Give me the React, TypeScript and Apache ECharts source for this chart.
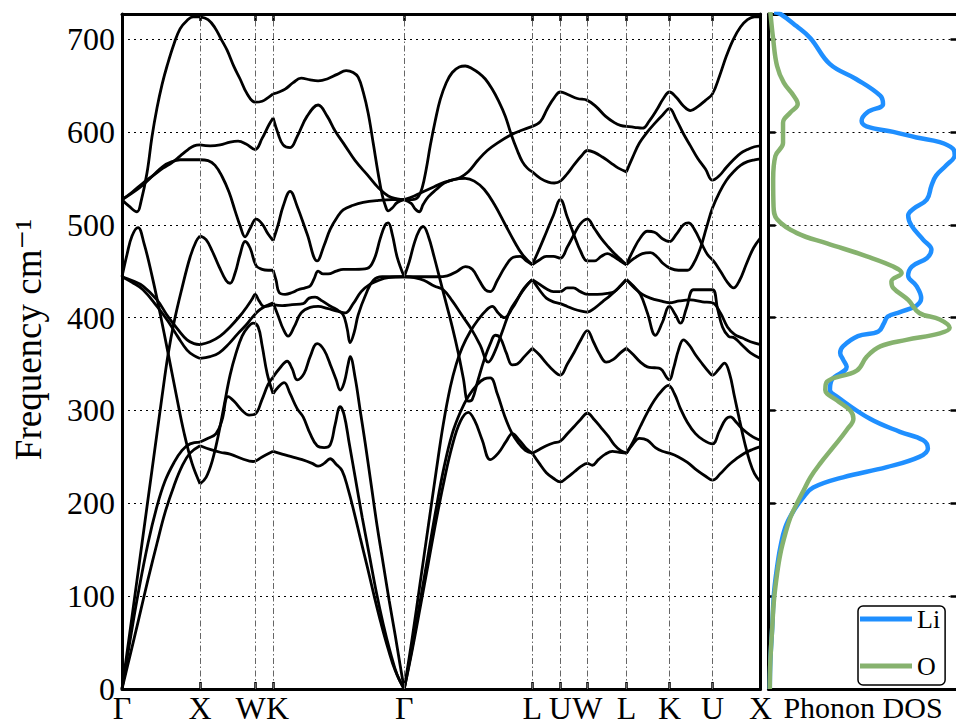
import { useEffect, useRef } from 'react';
import * as echarts from 'echarts';

const FONT = "'Liberation Serif', 'DejaVu Serif', serif";

// high-symmetry points along the path (path coordinate) and their labels
const symLabels = ['Γ', 'X', 'W', 'K', 'Γ', 'L', 'U', 'W', 'L', 'K', 'U', 'X'];
const symPos = [0, 78, 133, 151, 282, 410, 438, 465, 504, 547, 590, 638];
const yTicks = [0, 100, 200, 300, 400, 500, 600, 700];
const yMax = 727;

// ---- band curves, one small array per path segment ([path, frequency cm^-1]) ----
const bandsGX = [
  [[0,0],[8,36],[16,72],[26,118],[35,157],[43,190],[52,219],[60,240],[68,254],[78,262]],
  [[0,0],[8,52],[16,102],[26,157],[35,197],[43,224],[52,244],[60,257],[68,264],[78,266]],
  [[0,0],[10,78],[20,157],[30,236],[40,315],[46,360],[52,395],[60,432],[68,465],[74,482],[78,488]],
  [[0,444],[5,468],[10,488],[16,497],[22,480],[30,445],[38,405],[46,362],[54,318],[62,276],[70,243],[78,221]],
  [[0,444],[10,440],[21,434],[35,419],[46,401],[56,387],[65,376],[72,372],[78,371]],
  [[0,444],[10,438],[21,430],[35,412],[46,396],[56,379],[65,365],[72,359],[78,356]],
  [[0,527],[10,534],[21,543],[31,553],[41,563],[50,568],[58,570],[68,570],[78,570]],
  [[0,527],[10,535],[21,545],[31,553],[41,561],[50,567],[58,574],[66,581],[72,585],[78,586]],
  [[0,527],[7,520],[15,514],[19,525],[25,556],[30,595],[35,626],[40,651],[45,671],[52,695],[58,711],[65,720],[71,724],[78,724]],
];

const bandsXWK = [
  [[78,724],[86,721],[93,712],[99,700],[105,688],[112,670],[118,657],[125,641],[133,632],[140,633],[146,637],[151,641]],
  [[78,586],[88,585],[98,586],[108,589],[116,590],[124,587],[133,581],[140,593],[147,608],[151,615]],
  [[78,570],[86,569],[93,564],[100,552],[107,535],[113,515],[118,499],[123,487],[128,496],[134,506],[140,501],[146,490],[151,483]],
  [[78,488],[84,484],[90,472],[97,455],[104,440],[108,437],[113,448],[118,468],[123,482],[128,475],[134,456],[140,452],[146,451],[151,451]],
  [[78,371],[88,374],[98,380],[108,390],[118,402],[125,412],[130,420],[133,425],[137,418],[142,412],[151,414]],
  [[78,356],[88,358],[97,362],[107,372],[116,383],[124,392],[130,400],[136,407],[143,412],[151,416]],
  [[78,221],[84,228],[90,245],[96,272],[102,305],[108,338],[114,362],[120,380],[126,390],[131,394],[136,390],[140,370],[145,340],[151,318]],
  [[78,266],[86,270],[94,275],[100,290],[106,315],[112,310],[120,300],[127,295],[133,296],[140,312],[146,328],[151,336]],
  [[78,262],[88,258],[98,255],[108,253],[120,248],[131,245],[140,250],[151,256]],
];

const bandsKG = [
  [[151,641],[157,643],[163,646],[171,653],[179,658],[188,656],[196,655],[205,657],[215,662],[224,666],[231,664],[236,659],[241,643],[246,620],[251,588],[256,555],[260,532],[263,521],[266,515],[270,518],[275,524],[282,527]],
  [[151,615],[156,598],[161,586],[168,583],[175,595],[185,617],[196,629],[205,617],[213,601],[223,585],[233,569],[245,554],[256,540],[266,531],[275,528],[282,527]],
  [[151,483],[156,500],[161,520],[168,536],[175,520],[185,490],[195,461],[202,478],[208,495],[215,508],[221,516],[231,521],[241,524],[255,526],[270,527],[282,527]],
  [[151,451],[154,440],[157,427],[163,425],[170,427],[176,430],[183,432],[188,434],[192,442],[196,450],[201,447],[206,447],[214,450],[221,452],[233,452],[245,453],[252,463],[258,485],[263,500],[266,502],[270,490],[275,465],[282,444]],
  [[151,414],[160,413],[170,414],[181,415],[187,421],[193,422],[200,418],[207,413],[214,409],[221,403],[225,388],[228,373],[232,384],[236,403],[244,426],[251,440],[260,444],[282,444]],
  [[151,416],[156,402],[161,388],[166,380],[172,390],[179,405],[188,411],[196,412],[205,410],[215,407],[223,405],[231,415],[239,428],[248,436],[256,440],[266,443],[282,444]],
  [[151,336],[158,346],[165,353],[170,345],[175,333],[182,340],[188,358],[195,372],[202,365],[209,347],[214,333],[218,322],[222,330],[226,350],[228,358],[233,335],[238,300],[243,265],[249,220],[255,175],[261,135],[267,95],[273,58],[278,25],[282,0]],
  [[151,318],[156,325],[162,330],[168,318],[175,302],[181,293],[188,275],[195,262],[202,260],[208,263],[213,285],[218,304],[222,295],[227,265],[233,228],[240,185],[247,145],[254,105],[261,70],[268,40],[275,15],[282,0]],
  [[151,256],[160,253],[170,250],[180,247],[190,243],[196,240],[202,243],[208,248],[214,242],[220,235],[226,215],[232,190],[238,163],[245,132],[252,100],[259,70],[266,43],[273,20],[282,0]],
];

const bandsGL = [
  [[282,527],[290,527],[296,530],[300,540],[304,560],[308,585],[313,612],[318,635],[324,653],[330,664],[337,670],[343,671],[350,668],[357,663],[363,657],[370,646],[376,634],[383,617],[389,597],[395,580],[400,568],[405,561],[410,557]],
  [[282,527],[292,531],[302,536],[312,541],[320,545],[330,548],[338,551],[346,557],[356,570],[365,580],[375,588],[389,597],[400,602],[410,606]],
  [[282,527],[289,523],[293,517],[297,514],[301,522],[306,530],[314,538],[322,545],[332,549],[343,550],[352,547],[362,538],[372,522],[383,500],[392,482],[400,468],[410,457]],
  [[282,444],[300,444],[315,444],[325,445],[335,450],[343,455],[350,452],[357,440],[363,430],[368,428],[375,440],[383,455],[391,465],[398,466],[404,461],[410,457]],
  [[282,444],[287,460],[292,480],[297,494],[301,498],[306,488],[312,465],[318,440],[324,415],[330,390],[336,362],[341,335],[346,310],[350,312],[355,330],[362,355],[368,372],[373,381],[378,378],[384,362],[390,349],[395,350],[402,358],[410,367]],
  [[282,444],[292,443],[302,440],[312,434],[321,430],[330,418],[340,402],[350,386],[358,370],[366,352],[372,362],[380,385],[388,408],[395,420],[402,432],[410,441]],
  [[282,0],[290,55],[298,115],[306,175],[314,235],[321,285],[328,325],[334,350],[340,368],[348,385],[356,398],[364,408],[370,412],[376,405],[382,400],[390,410],[398,425],[404,434],[410,441]],
  [[282,0],[290,45],[298,95],[306,145],[314,195],[322,240],[330,275],[338,298],[346,315],[355,328],[362,334],[368,335],[375,318],[382,295],[389,277],[396,265],[403,257],[410,254]],
  [[282,0],[290,42],[298,88],[306,135],[314,182],[322,225],[330,262],[338,288],[346,298],[352,290],[360,268],[368,247],[376,254],[384,267],[390,275],[397,268],[404,259],[410,254]],
];

const bandsLUWL = [
  [[410,606],[418,611],[425,625],[432,637],[438,643],[446,640],[455,636],[465,634],[474,627],[483,617],[492,610],[498,607],[504,606]],
  [[410,557],[418,550],[426,546],[432,545],[438,547],[445,555],[452,565],[459,574],[465,580],[472,578],[480,573],[488,567],[496,561],[504,557]],
  [[410,457],[417,474],[424,492],[431,510],[438,527],[445,508],[452,488],[458,472],[465,461],[472,461],[479,466],[485,469],[491,466],[498,461],[504,457]],
  [[410,457],[417,462],[424,466],[431,466],[438,464],[445,476],[452,490],[458,501],[465,506],[472,496],[479,485],[486,476],[492,469],[498,463],[504,457]],
  [[410,441],[417,436],[424,431],[431,428],[438,428],[445,432],[451,432],[458,428],[465,425],[475,425],[485,426],[492,428],[498,434],[504,441]],
  [[410,441],[417,430],[424,421],[431,417],[438,415],[445,412],[452,409],[459,407],[465,406],[472,410],[480,417],[488,424],[496,432],[504,441]],
  [[410,367],[417,360],[424,351],[431,343],[438,338],[445,350],[452,363],[458,375],[465,386],[471,374],[477,361],[484,352],[491,355],[498,362],[504,367]],
  [[410,254],[417,258],[424,262],[431,265],[438,267],[445,275],[452,283],[458,290],[465,297],[472,290],[479,281],[486,272],[492,263],[498,257],[504,254]],
  [[410,254],[417,243],[424,233],[431,227],[438,223],[445,228],[452,234],[459,240],[465,243],[470,241],[476,247],[483,253],[490,256],[497,255],[504,254]],
];

const bandsLKUX = [
  [[504,606],[512,605],[520,604],[527,612],[535,625],[541,636],[547,643],[554,637],[561,628],[568,623],[575,627],[583,634],[590,641],[597,660],[604,682],[611,700],[618,713],[625,721],[632,724],[638,724]],
  [[504,557],[510,572],[517,588],[525,600],[533,610],[540,618],[547,625],[554,613],[561,598],[568,585],[575,572],[583,560],[590,548],[597,553],[604,562],[611,570],[618,577],[625,581],[632,584],[638,585]],
  [[504,457],[512,464],[520,469],[528,470],[535,465],[541,458],[548,453],[556,451],[565,451],[571,458],[578,475],[584,497],[590,518],[597,535],[604,548],[611,557],[618,564],[625,568],[632,570],[638,571]],
  [[504,457],[511,473],[518,486],[525,493],[532,492],[540,485],[547,482],[554,490],[561,500],[566,502],[572,495],[579,480],[585,468],[591,461],[598,450],[605,438],[611,432],[617,440],[624,458],[631,475],[638,486]],
  [[504,441],[511,434],[518,425],[525,405],[533,381],[540,395],[547,412],[553,403],[558,394],[564,410],[571,430],[580,430],[590,430],[595,410],[600,390],[606,380],[612,378],[620,370],[628,362],[638,356]],
  [[504,441],[512,432],[520,425],[528,421],[538,418],[547,416],[557,418],[568,419],[580,417],[590,416],[598,405],[605,390],[612,382],[620,378],[628,374],[638,371]],
  [[504,367],[511,360],[518,352],[525,347],[532,346],[538,345],[544,336],[547,333],[551,345],[556,365],[561,376],[567,370],[573,360],[580,350],[586,342],[590,338],[596,344],[602,351],[607,340],[612,315],[617,290],[622,266],[627,246],[632,232],[638,223]],
  [[504,254],[511,267],[518,283],[525,298],[532,311],[540,322],[546,327],[552,318],[558,302],[565,287],[573,275],[581,268],[590,264],[597,278],[603,290],[608,293],[614,287],[620,280],[627,274],[633,270],[638,268]],
  [[504,254],[510,263],[517,270],[525,268],[533,260],[540,256],[547,254],[556,250],[565,244],[574,236],[582,230],[590,225],[598,232],[606,241],[614,248],[622,254],[630,258],[638,261]],
];

// ---- phonon DOS, [DOS (arb. units), frequency] ----
const dosLi = [
  [3,729],[6.4,727],[15,714],[22.5,701],[33,673],[47,657],[60,639],[61.5,630],[53,621],[50,612],[52.6,606],[67,600],[79.5,594],[92,589],[99,582],[100,575],[95.5,564],[90,553],[87.5,542],[85,527],[77.7,517],[75,510],[76.8,499],[83,484],[87.5,473],[85,464],[77,455],[75,445],[79.5,434],[82,421],[79.5,413],[70.6,406],[64,401],[62,394],[59,385],[48,380],[40,369],[38.5,362],[40,355],[42,347],[34,333],[33,322],[36.7,315],[54.5,291],[70.6,277],[83,268],[85.6,259],[81,250],[63.5,239],[40,228],[24,217],[18.9,207],[13.5,192],[9,174],[6.4,153],[4.6,131],[2.9,102],[2,66],[1,30],[0.7,0],
];
const dosO = [
  [1,729],[2.5,700],[4.6,671],[8.2,653],[13.5,639],[15.7,630],[11.8,621],[7.8,610],[7.8,599],[7.8,588],[3.7,574],[2.5,549],[2.7,520],[4.6,506],[15.3,491],[31.4,480],[52.8,466],[67,455],[71.5,448],[66,439],[67,432],[75,419],[81,405],[92,398],[97.3,389],[92,383],[74,376],[60,369],[52.8,358],[47.4,343],[31.4,331],[30.5,322],[36.7,311],[43.9,300],[45.6,291],[42,279],[35,261],[27.8,243],[22.5,228],[18.9,214],[15.3,200],[11.8,185],[9,167],[6.4,146],[4.6,124],[2.9,95],[2,66],[1,30],[0.7,0],
];

const allBandSegments = [bandsGX, bandsXWK, bandsKG, bandsGL, bandsLUWL, bandsLKUX];

export default function App() {
  const ref = useRef<HTMLDivElement>(null);

  useEffect(() => {
    if (!ref.current) return;
    const chart = echarts.init(ref.current, null, { renderer: 'svg' });

    const frame = { show: true, onZero: false, lineStyle: { color: '#000', width: 3 } };
    const dotted = { show: true, lineStyle: { color: '#000', width: 1, type: [2, 4] as number[] } };

    const bandSeries: any[] = [];
    allBandSegments.forEach((seg) => {
      seg.forEach((curve) => {
        bandSeries.push({
          type: 'line',
          xAxisIndex: 0,
          yAxisIndex: 0,
          data: curve,
          showSymbol: false,
          symbol: 'none',
          smooth: 0.4,
          silent: true,
          z: 4,
          lineStyle: { color: '#000', width: 2.8 },
        });
      });
    });

    const option: any = {
      animation: false,
      backgroundColor: '#fff',
      textStyle: { fontFamily: FONT },
      grid: [
        { left: 122, top: 14, width: 638.5, height: 675, outerBoundsMode: 'none', containLabel: false },
        { left: 768.5, top: 14, width: 189, height: 675, outerBoundsMode: 'none', containLabel: false },
      ],
      legend: {
        data: [
          { name: 'Li', icon: 'rect' },
          { name: 'O', icon: 'rect' },
        ],
        orient: 'vertical',
        left: 858,
        top: 606,
        itemWidth: 52,
        itemHeight: 5,
        itemGap: 21,
        padding: [0, 5, 6, 2],
        borderColor: '#000',
        borderWidth: 1.5,
        borderRadius: 5,
        backgroundColor: '#fff',
        textStyle: { fontFamily: FONT, fontSize: 26, color: '#000', lineHeight: 22 },
      },
      xAxis: [
        {
          gridIndex: 0, type: 'value', min: 0, max: 638, position: 'bottom',
          axisLine: frame,
          axisTick: { show: true, inside: true, length: 7, customValues: symPos, lineStyle: { color: '#000', width: 2.5 } },
          axisLabel: {
            show: true, customValues: symPos, margin: 5, fontSize: 32, lineHeight: 28, fontFamily: FONT, color: '#000',
            formatter: (v: number) => {
              let best = 0;
              symPos.forEach((p, i) => { if (Math.abs(p - v) < Math.abs(symPos[best] - v)) best = i; });
              if (best === 2) return '{w|W}';
              if (best === 3) return '{k|K}';
              return '{n|' + symLabels[best] + '}';
            },
            rich: {
              n: { fontSize: 32, lineHeight: 28, fontFamily: FONT, color: '#000' },
              w: { fontSize: 32, lineHeight: 28, fontFamily: FONT, color: '#000', padding: [0, 9, 0, 0] },
              k: { fontSize: 32, lineHeight: 28, fontFamily: FONT, color: '#000', padding: [0, 0, 0, 9] },
            },
          },
          splitLine: { show: false },
        },
        {
          gridIndex: 0, type: 'value', min: 0, max: 638, position: 'top',
          axisLine: frame,
          axisTick: { show: true, inside: true, length: 7, customValues: symPos, lineStyle: { color: '#000', width: 2.5 } },
          axisLabel: { show: false },
          splitLine: { show: false },
        },
        {
          gridIndex: 1, type: 'value', min: 0, max: 101.5, position: 'bottom',
          axisLine: frame, axisTick: { show: false }, axisLabel: { show: false }, splitLine: { show: false },
          name: 'Phonon DOS', nameLocation: 'middle', nameGap: 5,
          nameTextStyle: { fontFamily: FONT, fontSize: 30, lineHeight: 27, color: '#000', verticalAlign: 'top' },
        },
        {
          gridIndex: 1, type: 'value', min: 0, max: 101.5, position: 'top',
          axisLine: frame, axisTick: { show: false }, axisLabel: { show: false }, splitLine: { show: false },
        },
      ],
      yAxis: [
        {
          gridIndex: 0, type: 'value', min: 0, max: yMax, interval: 100, position: 'left',
          axisLine: frame,
          axisTick: { show: false },
          axisLabel: { show: true, customValues: yTicks, margin: 7, fontSize: 32, fontFamily: FONT, color: '#000' },
          splitLine: dotted,
          name: 'Frequency cm⁻¹', nameLocation: 'middle', nameRotate: 90, nameGap: 75,
          nameTextStyle: { fontFamily: FONT, fontSize: 37, color: '#000', padding: [0, 0, 0, 24] },
        },
        {
          gridIndex: 0, type: 'value', min: 0, max: yMax, interval: 100, position: 'right',
          axisLine: frame, axisTick: { show: false }, axisLabel: { show: false }, splitLine: { show: false },
        },
        {
          gridIndex: 1, type: 'value', min: 0, max: yMax, interval: 100, position: 'left',
          axisLine: frame,
          axisTick: { show: true, inside: true, length: 7, customValues: yTicks, lineStyle: { color: '#000', width: 2.5 } },
          axisLabel: { show: false },
          splitLine: dotted,
        },
        {
          gridIndex: 1, type: 'value', min: 0, max: yMax, interval: 100, position: 'right',
          axisLine: frame,
          axisTick: { show: true, inside: true, length: 7, customValues: yTicks, lineStyle: { color: '#000', width: 2.5 } },
          axisLabel: { show: false },
          splitLine: { show: false },
        },
      ],
      series: [
        {
          type: 'line', xAxisIndex: 0, yAxisIndex: 0, data: [], silent: true, z: 2,
          markLine: {
            silent: true, symbol: ['none', 'none'], label: { show: false },
            lineStyle: { color: '#666', width: 1, type: [6, 2.5, 1.5, 2.5] },
            data: symPos.slice(1, symPos.length - 1).map((p) => ({ xAxis: p })),
          },
        },
        ...bandSeries,
        {
          name: 'Li', type: 'line', xAxisIndex: 2, yAxisIndex: 2, data: dosLi,
          showSymbol: false, symbol: 'none', smooth: 0.4, silent: true, z: 4,
          lineStyle: { color: '#1f8fff', width: 4.5 }, itemStyle: { color: '#1f8fff' },
        },
        {
          name: 'O', type: 'line', xAxisIndex: 2, yAxisIndex: 2, data: dosO,
          showSymbol: false, symbol: 'none', smooth: 0.4, silent: true, z: 5,
          lineStyle: { color: '#86b26e', width: 4.5 }, itemStyle: { color: '#86b26e' },
        },
      ],
    };

    chart.setOption(option);
    return () => chart.dispose();
  }, []);

  return (
    <div
      ref={ref}
      style={{ position: 'fixed', left: 0, top: 0, width: 956, height: 725, background: '#fff' }}
    />
  );
}
